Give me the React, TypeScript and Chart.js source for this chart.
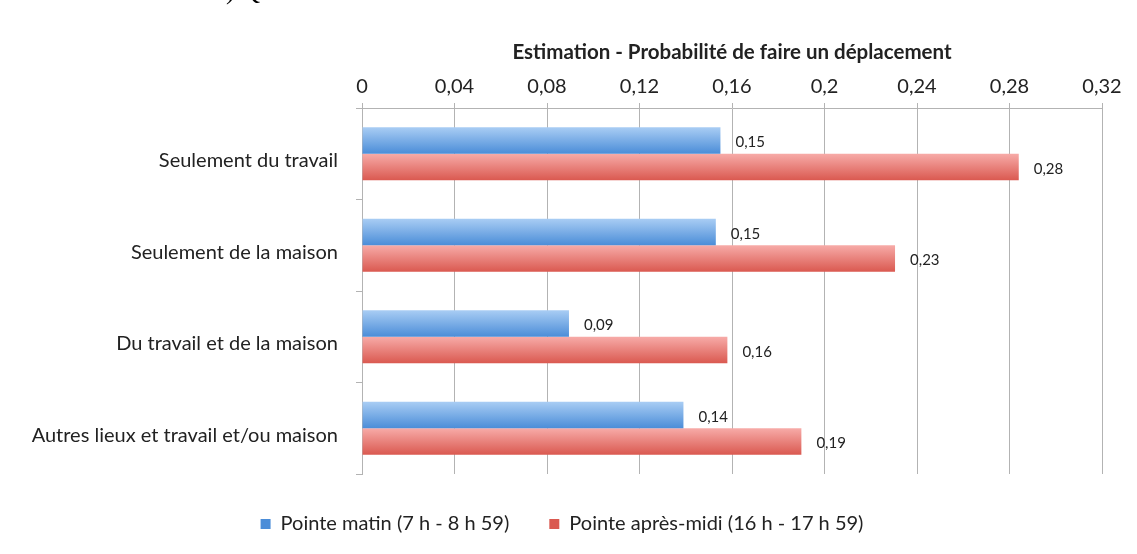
import { useEffect, useRef } from "react";
import { Chart, registerables } from "chart.js";

Chart.register(...registerables);

const categories = [
  "Seulement du travail",
  "Seulement de la maison",
  "Du travail et de la maison",
  "Autres lieux et travail et/ou maison",
];
const morningValues = [0.155, 0.153, 0.0895, 0.139];
const eveningValues = [0.284, 0.2305, 0.158, 0.19];
const seriesLabels = ["Pointe matin (7 h - 8 h 59)", "Pointe après-midi (16 h - 17 h 59)"];
const xTickLabels = ["0", "0,04", "0,08", "0,12", "0,16", "0,2", "0,24", "0,28", "0,32"];
const titleText = "Estimation - Probabilité de faire un déplacement";

const FONT = "Lato";
const CAT_PCT = 0.58;

function gradientFor(c: any, topColor: string, bottomColor: string, solid: string) {
  if (c.type !== "data") return solid;
  const chart = c.chart;
  const y = chart.scales && chart.scales.y;
  if (!y || y.bottom === undefined) return solid;
  const center = y.getPixelForValue(c.dataIndex);
  const catH = (y.bottom - y.top) / categories.length;
  const half = (catH * CAT_PCT) / 2;
  const y0 = c.datasetIndex === 0 ? center - half : center;
  const g = chart.ctx.createLinearGradient(0, y0, 0, y0 + half);
  g.addColorStop(0, topColor);
  g.addColorStop(1, bottomColor);
  return g;
}

const valueLabels = {
  id: "valueLabels",
  afterDatasetsDraw(chart: any) {
    const ctx = chart.ctx;
    ctx.save();
    ctx.font = `15px ${FONT}`;
    ctx.fillStyle = "#222";
    ctx.textAlign = "left";
    ctx.textBaseline = "middle";
    chart.data.datasets.forEach((ds: any, di: number) => {
      const meta = chart.getDatasetMeta(di);
      meta.data.forEach((el: any, i: number) => {
        const v = ds.data[i] as number;
        const txt = v.toFixed(2).replace(".", ",");
        ctx.fillText(txt, el.x + 15, el.y + 2);
      });
    });
    ctx.restore();
  },
};

export default function App() {
  const ref = useRef<HTMLCanvasElement>(null);
  useEffect(() => {
    if (!ref.current) return;
    const chart = new Chart(ref.current, {
      type: "bar",
      data: {
        labels: categories,
        datasets: [
          {
            label: seriesLabels[0],
            data: morningValues,
            backgroundColor: (c: any) => gradientFor(c, "#a9cdf4", "#4b8dd8", "#6fa4e2"),
            borderWidth: 0,
            categoryPercentage: CAT_PCT,
            barPercentage: 1,
          },
          {
            label: seriesLabels[1],
            data: eveningValues,
            backgroundColor: (c: any) => gradientFor(c, "#f7aba8", "#da5950", "#e97a74"),
            borderWidth: 0,
            categoryPercentage: CAT_PCT,
            barPercentage: 1,
          },
        ],
      },
      options: {
        indexAxis: "y",
        responsive: false,
        animation: false,
        events: [],
        layout: { padding: { left: 22, right: 35, top: 40, bottom: 10 } },
        plugins: {
          tooltip: { enabled: false },
          legend: {
            position: "bottom",
            maxHeight: 79,
            labels: {
              boxWidth: 10,
              boxHeight: 10,
              color: "#222",
              font: { family: FONT, size: 20 },
              padding: 40,
            },
          },
        },
        scales: {
          x: {
            position: "top",
            min: 0,
            max: 0.32,
            afterFit: (s: any) => {
              s.height = 68;
            },
            ticks: {
              stepSize: 0.04,
              color: "#222",
              font: { family: FONT, size: 20 },
              padding: 4,
              maxRotation: 0,
              autoSkip: false,
              callback: (_v: any, i: number) => xTickLabels[i],
            },
            grid: { color: "#b3b3b3", lineWidth: 1, tickLength: 5 },
            border: { display: true, color: "#b3b3b3" },
            title: {
              display: true,
              text: titleText,
              color: "#222",
              font: { family: FONT, size: 20.5, weight: "bold" },
              padding: 0,
            },
          },
          y: {
            afterFit: (s: any) => {
              s.width = 340;
            },
            ticks: {
              color: "#222",
              font: { family: FONT, size: 20 },
              padding: 18,
              labelOffset: 7,
            },
            grid: { drawOnChartArea: false, offset: true, color: "#b3b3b3", tickLength: 6 },
            border: { display: true, color: "#b3b3b3" },
          },
        },
      },
      plugins: [valueLabels],
    } as any);
    return () => chart.destroy();
  }, []);
  return (
    <div style={{ position: "fixed", left: 0, top: 0, width: 1137, height: 554, background: "#fff", overflow: "hidden" }}>
      <canvas ref={ref} width={1137} height={554} style={{ display: "block" }} />
      <div
        style={{
          position: "absolute",
          left: 226,
          top: -23,
          fontFamily: "'Liberation Serif', serif",
          fontSize: 26,
          lineHeight: "28px",
          color: "#000",
          whiteSpace: "pre",
        }}
      >
        {") Q"}
      </div>
    </div>
  );
}
